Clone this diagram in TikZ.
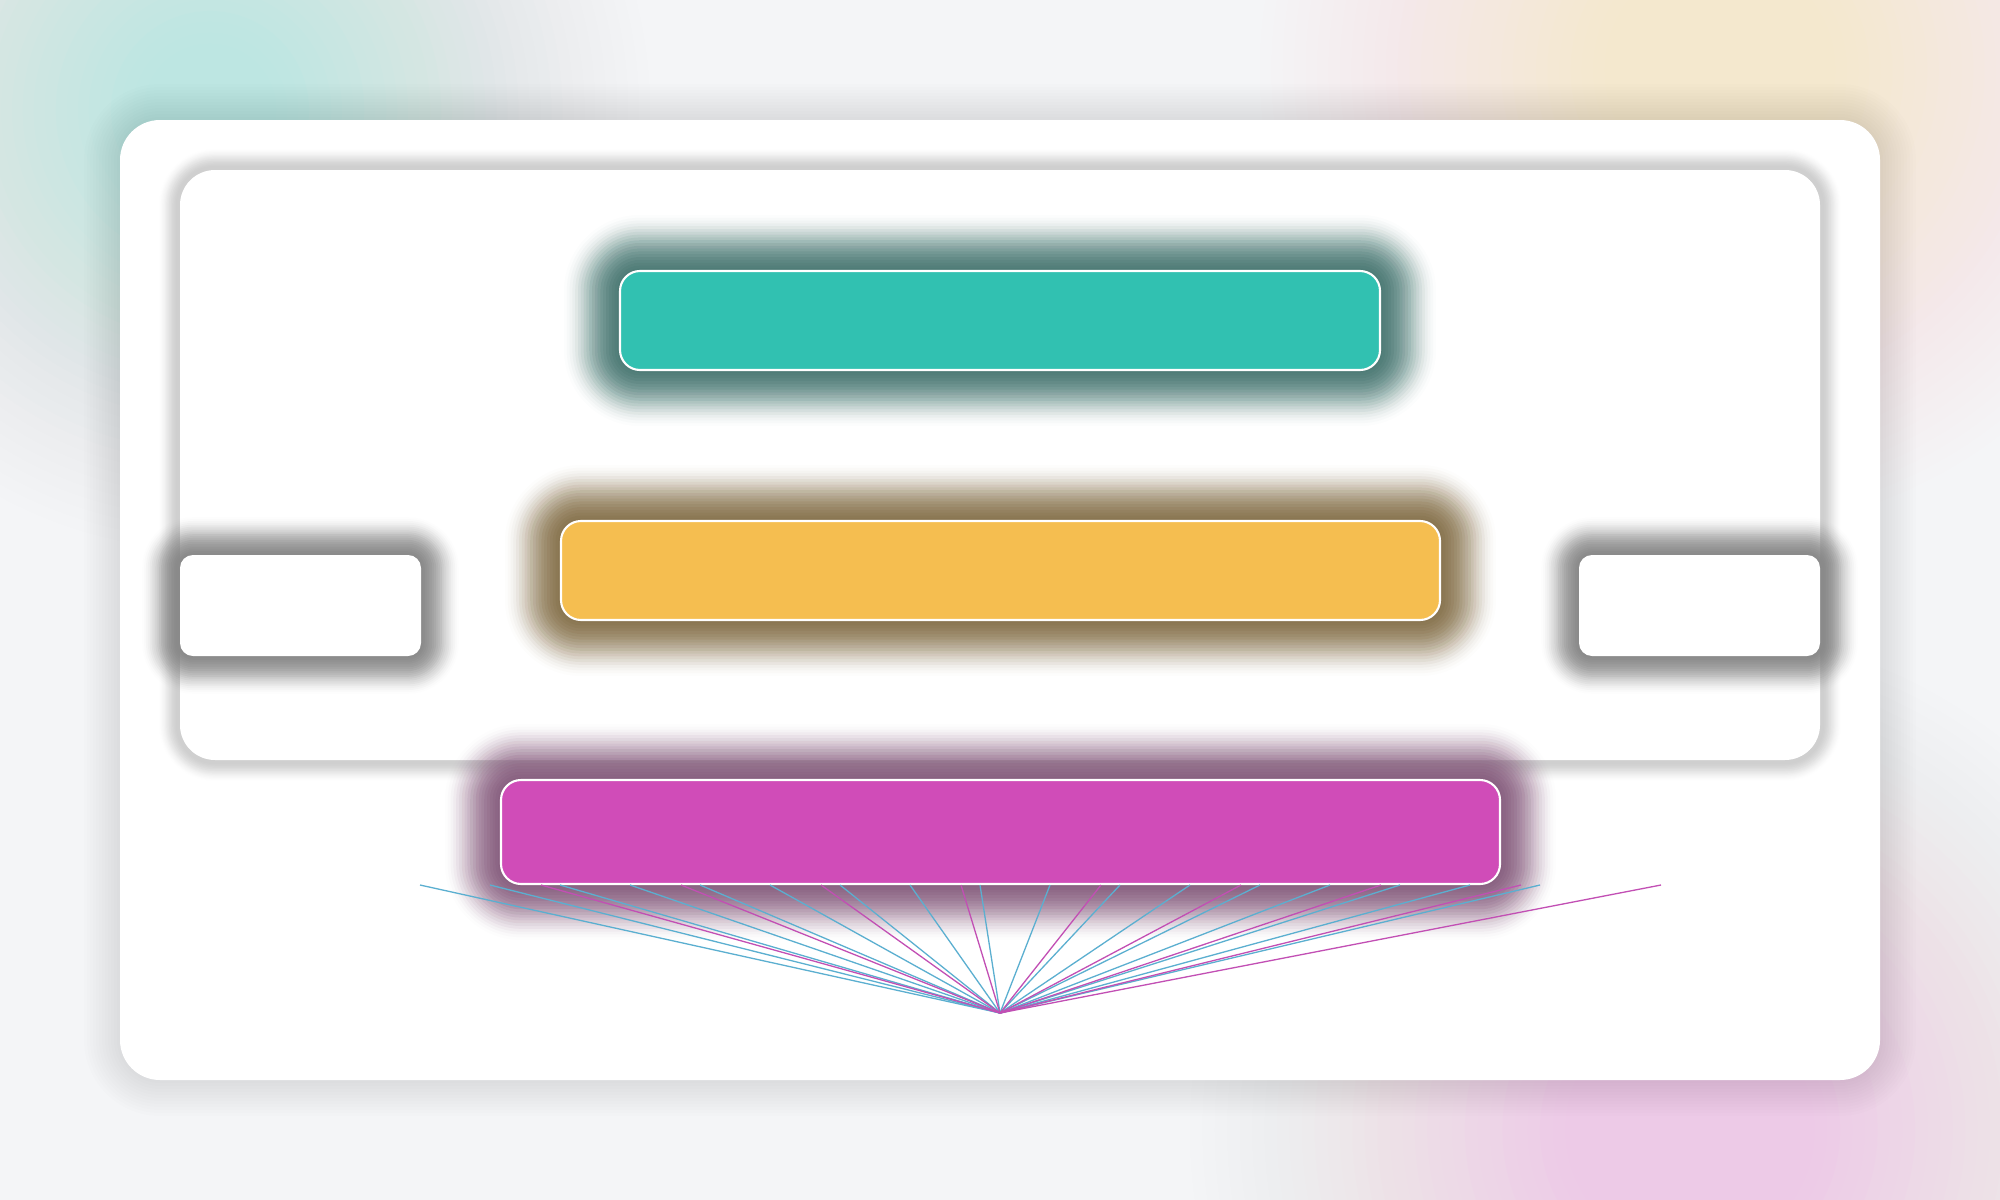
\documentclass[tikz,border=0pt]{standalone}
\usetikzlibrary{calc, fit, positioning}
\definecolor{pageBg}{HTML}{F4F5F7}
\definecolor{blobTeal}{HTML}{BDE6E2}
\definecolor{blobSand}{HTML}{F6E8CE}
\definecolor{blobRose}{HTML}{EDCAE7}
\definecolor{tealFill}{HTML}{31C1B1}
\definecolor{amberFill}{HTML}{F5BE50}
\definecolor{plumFill}{HTML}{D04CB8}
\definecolor{tealGlow}{HTML}{4A7A75}
\definecolor{amberGlow}{HTML}{89744D}
\definecolor{plumGlow}{HTML}{895E80}
\definecolor{greyGlow}{HTML}{8A8A8A}
\definecolor{panelGlow}{HTML}{CFCFCF}
\definecolor{fanBlue}{HTML}{5BAFD0}
\definecolor{fanPink}{HTML}{C24FB4}
\tikzset{
    cardFace/.style={rectangle, fill=white, rounded corners=0.4cm, inner sep=0pt},
    panelFace/.style={rectangle, fill=white, rounded corners=0.35cm, inner sep=0pt},
    sideSlot/.style={rectangle, fill=white, rounded corners=0.13cm, inner sep=0pt},
    barTeal/.style={rectangle, fill=tealFill, draw=white, line width=0.6pt, rounded corners=0.2cm, inner sep=0pt},
    barAmber/.style={rectangle, fill=amberFill, draw=white, line width=0.6pt, rounded corners=0.2cm, inner sep=0pt},
    barPlum/.style={rectangle, fill=plumFill, draw=white, line width=0.6pt, rounded corners=0.2cm, inner sep=0pt},
    fanBlueLine/.style={draw=fanBlue, line width=0.37pt},
    fanPinkLine/.style={draw=fanPink, line width=0.37pt},
}
% #1 step, #2 name, #3 style, #4 glow colour, #5 top left, #6 bottom right, #7 corner radius (px)
\newcommand{\glowBox}[7][4]{
    \begin{scope}
        \clip ($(#5)-(14*#1+1,14*#1+1)$) rectangle ($(#6)+(14*#1+1,14*#1+1)$);
        \foreach \k in {1,...,20}{
            \pgfmathsetmacro{\gs}{0.7*#1*\k}
            \pgfmathsetmacro{\gr}{(#7+\gs)*0.2845}
            \pgfmathsetmacro{\go}{0.24*(21-\k)/20}
            \fill[#4, opacity=\go, rounded corners=\gr pt] ($(#5)-(\gs,\gs)$) rectangle ($(#6)+(\gs,\gs)$);
        }
    \end{scope}
    \node[#3, fit={(#5) (#6)}] (#2) {};
}
\newcommand{\blob}[4]{
    \foreach \r in {1,...,40}{
        \pgfmathsetmacro{\bo}{0.08*(41-\r)/40}
        \fill[#1, opacity=\bo] (#2,#3) circle[radius=\r*#4];
    }
}

\begin{document}
\begin{tikzpicture}[x=0.01cm, y=-0.01cm]

        \useasboundingbox (0,0) rectangle (2000,1200);
        \fill[pageBg] (0,0) rectangle (2000,1200);
        \blob{blobTeal}{210}{110}{0.11cm}
        \blob{blobSand}{1720}{70}{0.115cm}
        \blob{blobRose}{1690}{1130}{0.125cm}

        % card and its soft shadow
        \foreach \k in {1,...,12}{
            \pgfmathsetmacro{\gr}{(40+3*\k)*0.2845}
            \fill[black, opacity=0.006, rounded corners=\gr pt] ($(120,120)-(3*\k,3*\k)$) rectangle ($(1880,1080)+(3*\k,3*\k)$);
        }
        \node[cardFace, fit={(120,120) (1880,1080)}] (card) {};

        \glowBox[1.5]{panel}{panelFace}{panelGlow}{180,170}{1820,760}{35}

        \glowBox{tealBar}{barTeal}{tealGlow}{620,271}{1380,370}{20}
        \glowBox{amberBar}{barAmber}{amberGlow}{561,521}{1440,620}{20}
        \glowBox[2.7]{leftSlot}{sideSlot}{greyGlow}{180,555}{421,656}{13}
        \glowBox[2.7]{rightSlot}{sideSlot}{greyGlow}{1579,555}{1820,656}{13}
        \glowBox{plumBar}{barPlum}{plumGlow}{501,780}{1500,884}{20}

        % fan under the plum bar
        \coordinate (hub) at (1000,1013);
        \foreach \i in {0,...,16}{
            \coordinate (blueEnd\i) at (420+70*\i,885);
            \draw[fanBlueLine] (hub) -- (blueEnd\i);
        }
        \foreach \i in {0,...,8}{
            \coordinate (pinkEnd\i) at (541+140*\i,885);
            \draw[fanPinkLine] (hub) -- (pinkEnd\i);
        }

    \end{tikzpicture}
\end{document}
